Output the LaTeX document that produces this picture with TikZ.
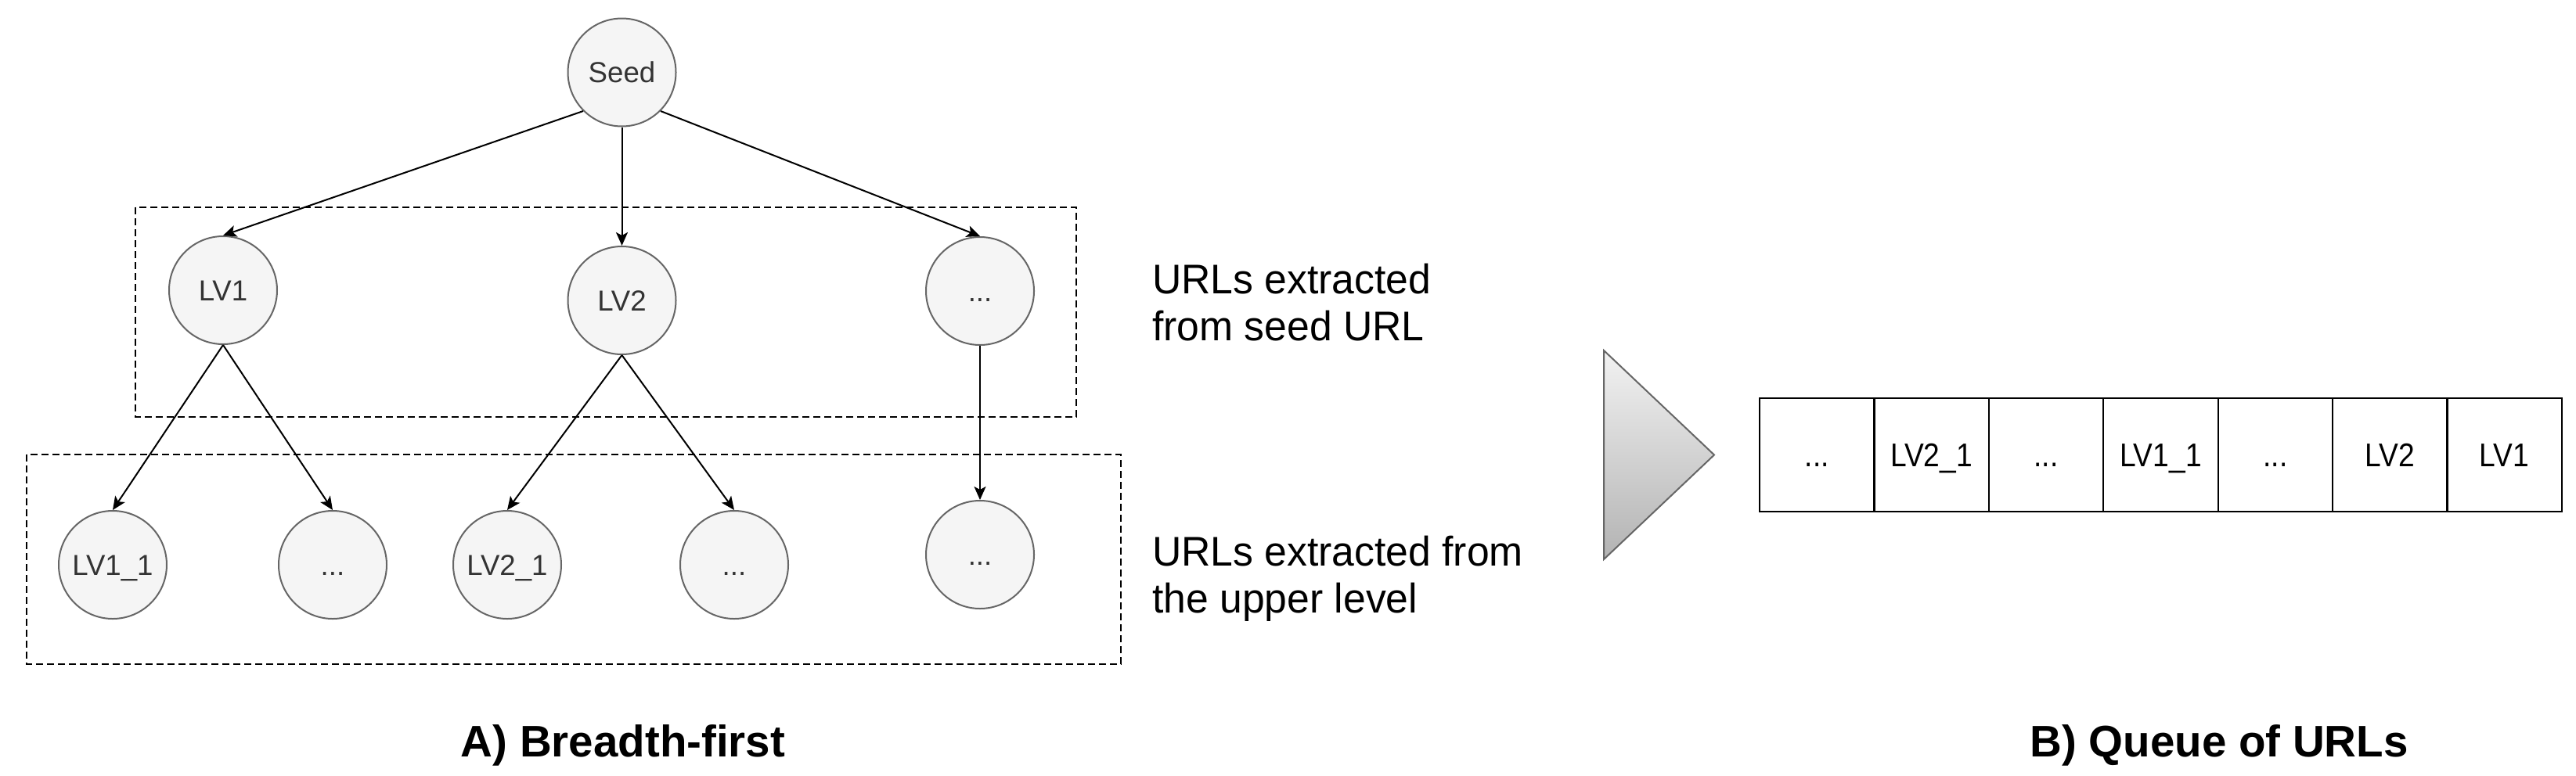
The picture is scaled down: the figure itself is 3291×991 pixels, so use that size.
\documentclass[tikz,border=0pt]{standalone}
\usepackage{fontspec}
\setmainfont{Liberation Sans}
\newfontfamily\condfont[FakeStretch=0.975]{Liberation Sans}
\newfontfamily\qfont[FakeStretch=0.885]{Liberation Sans}
\newfontfamily\cfont[FakeStretch=0.99]{Liberation Sans}
\usetikzlibrary{arrows.meta}
\definecolor{nodefill}{HTML}{F5F5F5}
\definecolor{nodeline}{HTML}{666666}
\definecolor{nodetext}{HTML}{333333}
\definecolor{tritop}{HTML}{F2F2F2}
\definecolor{tribot}{HTML}{B3B3B3}
\begin{document}
\begin{tikzpicture}[x=1pt,y=-1pt,
  urlnode/.style={circle, draw=nodeline, fill=nodefill, line width=2pt, minimum size=138pt, inner sep=0pt, text=nodetext, font=\cfont\fontsize{37}{44}\selectfont, text height=26.5pt, text depth=0pt},
  link/.style={draw=black, line width=2pt, -{Stealth[length=17pt,width=15pt,inset=4pt]}},
  levelbox/.style={draw=black, line width=2.6pt, dash pattern=on 9pt off 5pt},
  cell/.style={rectangle, draw=black, line width=2.2pt, minimum width=146.4pt, minimum height=145pt, inner sep=0pt, font=\qfont\fontsize{42}{50}\selectfont, text height=30pt, text depth=0pt},
  note/.style={anchor=north west, inner sep=0pt, align=left, font=\condfont\fontsize{53}{60}\selectfont},
  caption/.style={anchor=base, inner sep=0pt, font=\bfseries\fontsize{56.5}{68}\selectfont}]
\useasboundingbox (0,0) rectangle (3291,991);
\fill[white] (0,0) rectangle (3291,991);
% level boxes
\draw[levelbox] (173,265) rectangle (1375,533);
\draw[levelbox] (34,581) rectangle (1432,849);
% tree nodes
\node[urlnode] (seed) at (794.5,92.5) {Seed};
\node[urlnode] (lv1) at (285,371) {LV1};
\node[urlnode] (lv2) at (794.5,384) {LV2};
\node[urlnode] (d1) at (1252,372) {...};
\node[urlnode] (lv11) at (144,722) {LV1\_1};
\node[urlnode] (d2) at (425,722) {...};
\node[urlnode] (lv21) at (648,722) {LV2\_1};
\node[urlnode] (d3) at (938,722) {...};
\node[urlnode] (d4) at (1252,709) {...};
% connectors
\draw[link] (seed.south west) -- (lv1.north);
\draw[link] (seed.south) -- (lv2.north);
\draw[link] (seed.south east) -- (d1.north);
\draw[link] (lv1.south) -- (lv11.north);
\draw[link] (lv1.south) -- (d2.north);
\draw[link] (lv2.south) -- (lv21.north);
\draw[link] (lv2.south) -- (d3.north);
\draw[link] (d1.south) -- (d4.north);
% notes
\node[note] (noteA) at (1472,337) {URLs extracted\\from seed URL};
\node[note] (noteB) at (1472,685) {URLs extracted from\\the upper level};
% triangle
\draw[draw=nodeline, line width=2pt, top color=tritop, bottom color=tribot] (2049,448) -- (2190,581.5) -- (2049,715) -- cycle;
% queue
\node[cell] (q1) at (2321.2,581.5) {...};
\node[cell] (q2) at (2467.6,581.5) {LV2\_1};
\node[cell] (q3) at (2614.0,581.5) {...};
\node[cell] (q4) at (2760.4,581.5) {LV1\_1};
\node[cell] (q5) at (2906.8,581.5) {...};
\node[cell] (q6) at (3053.2,581.5) {LV2};
\node[cell] (q7) at (3199.6,581.5) {LV1};
% captions
\node[caption] (capA) at (796,967) {A) Breadth-first};
\node[caption] (capB) at (2835,967) {B) Queue of URLs};
\end{tikzpicture}
\end{document}
